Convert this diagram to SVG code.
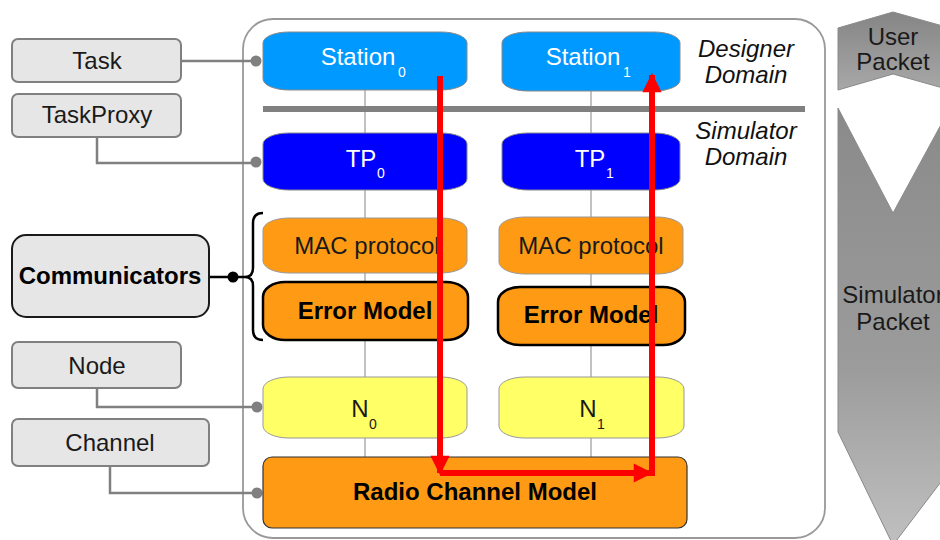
<svg xmlns="http://www.w3.org/2000/svg" width="940" height="540" viewBox="0 0 940 540">
<defs>
<style>
.lbl{font-family:"Liberation Sans",Arial,sans-serif;font-size:24px;fill:#1a1a1a;text-anchor:middle}
.b{font-weight:bold;fill:#000}
.w{fill:#fff}
.sub{font-size:14px;text-anchor:start}
.dom{font-family:"Liberation Sans",Arial,sans-serif;font-size:24px;font-style:italic;fill:#111;text-anchor:middle}
.gbox{fill:#e6e6e6;stroke:#808080;stroke-width:2}
.conn{fill:none;stroke:#808080;stroke-width:2.5}
.dot{fill:#808080}
.thin{stroke:#999;stroke-width:1.2}
.red{fill:none;stroke:#ff0000;stroke-width:6}
</style>
<marker id="ah" viewBox="0 0 10 10" refX="9" refY="5" markerWidth="4.5" markerHeight="3.2" orient="auto" markerUnits="strokeWidth">
<path d="M0,0 L10,5 L0,10 z" fill="#ff0000"/>
</marker>
<linearGradient id="gUser" x1="0" y1="0" x2="0" y2="1">
<stop offset="0" stop-color="#858585"/>
<stop offset="1" stop-color="#a8a8a8"/>
</linearGradient>
<linearGradient id="gSim" x1="0" y1="0" x2="0" y2="1">
<stop offset="0" stop-color="#8a8a8a"/>
<stop offset="0.6" stop-color="#9c9c9c"/>
<stop offset="1" stop-color="#c0c0c0"/>
</linearGradient>
</defs>

<g id="container">
<rect x="243" y="19" width="582" height="519" rx="30" ry="30" fill="#fff" stroke="#999" stroke-width="1.8"/>
</g>

<g id="packets">
<g id="user-packet">
<polygon points="838,28 893,12 950,28 950,90 893,74 838,90" fill="url(#gUser)" stroke="#8a8a8a" stroke-width="1"/>
<text class="lbl" x="893" y="45">User</text>
<text class="lbl" x="893" y="70">Packet</text>
</g>
<g id="simulator-packet">
<polygon points="838,108 893,213 950,108 950,470 893,545 838,432" fill="url(#gSim)" stroke="#8a8a8a" stroke-width="1"/>
<text class="lbl" x="893" y="303">Simulator</text>
<text class="lbl" x="893" y="330">Packet</text>
</g>
</g>

<g id="connectors">
<line x1="365" y1="90" x2="365" y2="457" class="thin"/>
<line x1="591" y1="90" x2="591" y2="457" class="thin"/>
<rect x="263" y="106" width="542" height="6" fill="#808080"/>
<path class="conn" d="M181,61 H255"/>
<circle class="dot" cx="256" cy="61" r="5.5"/>
<path class="conn" d="M97,137 V163 H255"/>
<circle class="dot" cx="256" cy="162" r="5.5"/>
<path class="conn" d="M97,388 V407 H255"/>
<circle class="dot" cx="257" cy="407" r="5.5"/>
<path class="conn" d="M110,466 V493 H255"/>
<circle class="dot" cx="257" cy="493" r="5.5"/>
<path d="M209,277 H245" stroke="#000" stroke-width="2.5" fill="none"/>
<circle cx="233" cy="277" r="5.5" fill="#000"/>
<path d="M263,213 Q253,213 253,223 L253,268 Q253,277 245,277 Q253,277 253,286 L253,330 Q253,340 263,340" fill="none" stroke="#000" stroke-width="2.5"/>
</g>

<g id="task"><rect class="gbox" x="12" y="39" width="169" height="43" rx="6"/><text class="lbl" x="97" y="69">Task</text></g>
<g id="taskproxy"><rect class="gbox" x="12" y="94" width="169" height="43" rx="6"/><text class="lbl" x="97" y="123">TaskProxy</text></g>
<g id="communicators"><rect x="12" y="235" width="197" height="82" rx="14" fill="#e6e6e6" stroke="#1a1a1a" stroke-width="2"/><text class="lbl b" x="110" y="284">Communicators</text></g>
<g id="node"><rect class="gbox" x="12" y="342" width="169" height="46" rx="6"/><text class="lbl" x="97" y="374">Node</text></g>
<g id="channel"><rect class="gbox" x="12" y="419" width="197" height="47" rx="6"/><text class="lbl" x="110" y="451">Channel</text></g>

<g id="station0"><rect x="263" y="32" width="204" height="58" rx="26" ry="11" fill="#0099ff" stroke="#8a8a8a" stroke-width="1"/><text class="lbl w" x="358" y="65">Station</text><text class="lbl w sub" x="398" y="77">0</text></g>
<g id="station1"><rect x="502" y="32" width="178" height="59" rx="26" ry="11" fill="#0099ff" stroke="#8a8a8a" stroke-width="1"/><text class="lbl w" x="583" y="65">Station</text><text class="lbl w sub" x="623" y="77">1</text></g>

<g id="designer-domain"><text class="dom" x="746" y="57">Designer</text><text class="dom" x="746" y="83">Domain</text></g>
<g id="simulator-domain"><text class="dom" x="746" y="139">Simulator</text><text class="dom" x="746" y="165">Domain</text></g>

<g id="tp0"><rect x="263" y="133" width="204" height="57" rx="26" ry="11" fill="#0000ff" stroke="#8a8a8a" stroke-width="1"/><text class="lbl w" x="361" y="167">TP</text><text class="lbl w sub" x="377" y="178">0</text></g>
<g id="tp1"><rect x="502" y="133" width="178" height="57" rx="26" ry="11" fill="#0000ff" stroke="#8a8a8a" stroke-width="1"/><text class="lbl w" x="590" y="167">TP</text><text class="lbl w sub" x="606" y="178">1</text></g>

<g id="mac0"><rect x="263" y="218" width="204" height="55" rx="26" ry="12" fill="#ff9a14" stroke="#999" stroke-width="1"/><text class="lbl" x="367" y="254">MAC protocol</text></g>
<g id="mac1"><rect x="499" y="217" width="184" height="57" rx="26" ry="12" fill="#ff9a14" stroke="#999" stroke-width="1"/><text class="lbl" x="591" y="254">MAC protocol</text></g>

<g id="error0"><rect x="263" y="282" width="205" height="58" rx="22" ry="15" fill="#ff9a14" stroke="#000" stroke-width="2.5"/><text class="lbl b" x="365" y="319">Error Model</text></g>
<g id="error1"><rect x="498" y="287" width="187" height="58" rx="22" ry="15" fill="#ff9a14" stroke="#000" stroke-width="2.5"/><text class="lbl b" x="591" y="323">Error Model</text></g>

<g id="n0"><rect x="263" y="377" width="204" height="61" rx="26" ry="12" fill="#ffff66" stroke="#999" stroke-width="1"/><text class="lbl" x="360" y="417">N</text><text class="lbl sub" x="369" y="429">0</text></g>
<g id="n1"><rect x="499" y="377" width="185" height="61" rx="26" ry="12" fill="#ffff66" stroke="#999" stroke-width="1"/><text class="lbl" x="588" y="417">N</text><text class="lbl sub" x="597" y="429">1</text></g>

<g id="radio-channel"><rect x="263" y="457" width="424" height="71" rx="9" fill="#ff9a14" stroke="#333" stroke-width="1.2"/><text class="lbl b" x="475" y="500">Radio Channel Model</text></g>

<g id="flow">
<path class="red" d="M440,76 V473" marker-end="url(#ah)"/>
<path class="red" d="M440,473 H651" marker-end="url(#ah)"/>
<path class="red" d="M652,476 V75" marker-end="url(#ah)"/>
</g>
</svg>
